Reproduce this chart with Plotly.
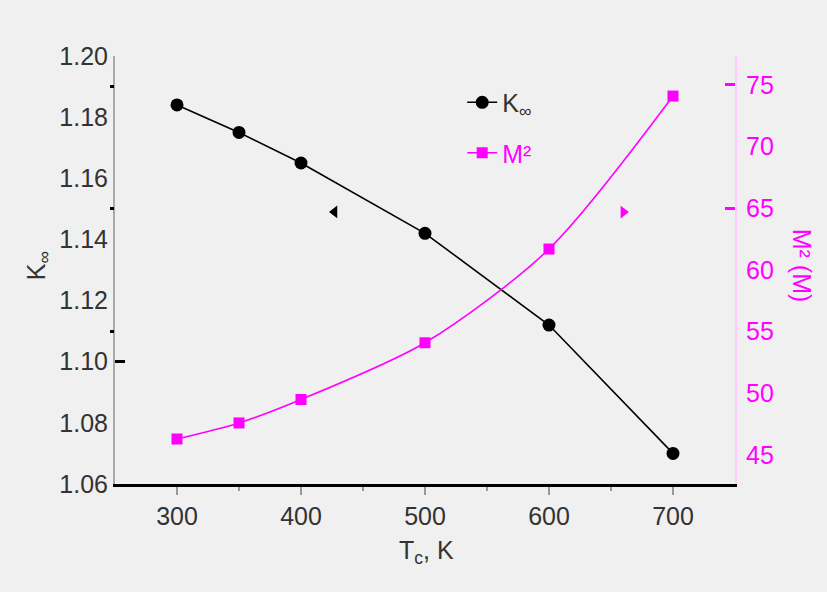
import plotly.graph_objects as go

# Temperature points and measured series
temperature = [300, 350, 400, 500, 600, 700]
k_inf = [1.184, 1.175, 1.165, 1.142, 1.112, 1.070]
m_squared = [46.3, 47.6, 49.5, 54.1, 61.7, 74.1]

# Direction markers pointing each curve to its own axis
arrow_k = ([427], [1.149])
arrow_m = ([660], [64.7])

x_ticks = [300, 400, 500, 600, 700]
k_ticks = [1.06, 1.08, 1.10, 1.12, 1.14, 1.16, 1.18, 1.20]
m_ticks = [45, 50, 55, 60, 65, 70, 75]

MAGENTA = "#ff00ff"
BG = "#f0f0f0"
FONT = "Liberation Sans, Arial, sans-serif"

fig = go.Figure()

fig.add_trace(go.Scatter(
    x=temperature, y=k_inf, mode="lines+markers", name="K<sub>∞</sub>",
    legendgroup="k",
    line=dict(color="#000000", width=1.6),
    marker=dict(symbol="circle", size=13, color="#000000"),
))
fig.add_trace(go.Scatter(
    x=temperature, y=m_squared, mode="lines+markers",
    name="<span style='color:#ff00ff'>M²</span>",
    legendgroup="m", yaxis="y2",
    line=dict(color=MAGENTA, width=1.6, shape="spline", smoothing=0.8),
    marker=dict(symbol="square", size=11, color=MAGENTA),
))
fig.add_trace(go.Scatter(
    x=arrow_k[0], y=arrow_k[1], mode="markers", showlegend=False,
    marker=dict(symbol="triangle-left", size=11, color="#000000"),
))
fig.add_trace(go.Scatter(
    x=arrow_m[0], y=arrow_m[1], mode="markers", showlegend=False, yaxis="y2",
    marker=dict(symbol="triangle-right", size=11, color=MAGENTA),
))

tick_font = dict(family=FONT, size=25, color="#333333")

fig.update_layout(
    width=827, height=592,
    margin=dict(l=115, r=92, t=56, b=108),
    paper_bgcolor=BG, plot_bgcolor=BG,
    font=dict(family=FONT, size=25, color="#222222"),
    showlegend=True,
    legend=dict(
        x=0.56, y=0.945, xanchor="left", yanchor="top",
        bgcolor="rgba(0,0,0,0)", tracegroupgap=15,
        font=dict(family=FONT, size=25, color="#333333"),
    ),
    xaxis=dict(
        range=[250, 750], tickvals=x_ticks, showgrid=False, zeroline=False,
        showline=True, linecolor="#000000", linewidth=2.5,
        ticks="outside", ticklen=8, tickwidth=1.5, tickcolor="#999999",
        minor=dict(tickvals=[350, 450, 550, 650], ticks="outside", ticklen=4,
                   tickcolor="#999999", tickwidth=1.5),
        tickfont=tick_font, ticklabelstandoff=0,
    ),
    yaxis=dict(
        range=[1.06, 1.20], tickvals=k_ticks,
        ticktext=[f"{v:.2f}" for v in k_ticks],
        showgrid=False, zeroline=False,
        showline=True, linecolor="#aaaaaa", linewidth=2,
        ticks="", tickfont=tick_font, ticklabelstandoff=0,
    ),
    yaxis2=dict(
        range=[42.65, 77.35], tickvals=m_ticks, overlaying="y", side="right",
        showgrid=False, zeroline=False,
        showline=True, linecolor="#ffccff", linewidth=2,
        ticks="", tickfont=dict(family=FONT, size=25, color=MAGENTA),
        ticklabelstandoff=4,
    ),
    # extra tick marks along the left and right axes
    yaxis3=dict(
        range=[1.06, 1.20], overlaying="y", anchor="x", side="left",
        showgrid=False, zeroline=False, showline=False, showticklabels=False,
        tickvals=[1.06, 1.10], ticks="inside", ticklen=10, tickwidth=2.5,
        tickcolor="#000000",
    ),
    yaxis4=dict(
        range=[1.06, 1.20], overlaying="y", anchor="x", side="left",
        showgrid=False, zeroline=False, showline=False, showticklabels=False,
        tickvals=[1.19, 1.15, 1.11], ticks="outside", ticklen=4, tickwidth=2.5,
        tickcolor="#000000",
    ),
    yaxis5=dict(
        range=[42.65, 77.35], overlaying="y", anchor="x", side="right",
        showgrid=False, zeroline=False, showline=False, showticklabels=False,
        tickvals=[65, 75], ticks="inside", ticklen=10, tickwidth=2.5,
        tickcolor=MAGENTA,
    ),
    annotations=[
        dict(text="T<sub>c</sub>, K", xref="paper", yref="paper",
             x=0.502, y=-0.16, showarrow=False, xanchor="center", yanchor="middle",
             font=dict(family=FONT, size=25, color="#333333")),
        dict(text="K<sub>∞</sub>", xref="paper", yref="paper",
             x=-0.125, y=0.51, showarrow=False, textangle=-90,
             xanchor="center", yanchor="middle",
             font=dict(family=FONT, size=25, color="#333333")),
        dict(text="M² (M)", xref="paper", yref="paper",
             x=1.108, y=0.51, showarrow=False, textangle=90,
             xanchor="center", yanchor="middle",
             font=dict(family=FONT, size=25, color=MAGENTA)),
    ],
)

# dummy traces so the tick-only axes are drawn
for ax in ["y3", "y4", "y5"]:
    fig.add_trace(go.Scatter(x=[None], y=[None], yaxis=ax, showlegend=False,
                             hoverinfo="skip"))

fig.write_html("out.html")
